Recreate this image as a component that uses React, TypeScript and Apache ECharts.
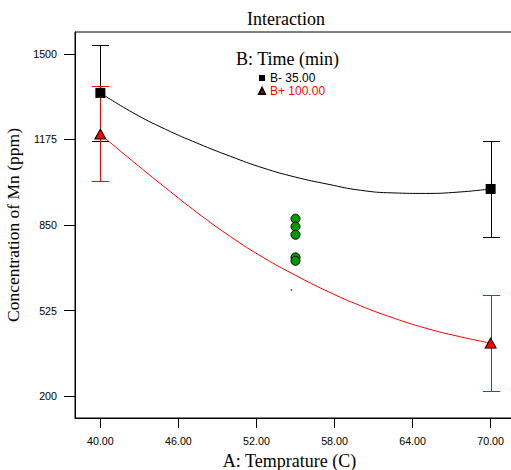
import React, { useEffect, useRef } from "react";
import * as echarts from "echarts";

// Axis ticks
const xTicks = [40, 46, 52, 58, 64, 70];
const yTicks = [200, 525, 850, 1175, 1500];

// Fitted interaction curves
const curveX = [40, 42.5, 45, 47.5, 50, 52.5, 55, 57.5, 60, 62.5, 65, 67.5, 70];
const blackCurveY = [1352, 1277, 1214, 1160, 1111, 1067, 1032, 1005, 982, 972, 970, 975, 987];
const redCurveY = [1195, 1092, 992, 895, 806, 727, 659, 597, 543, 497, 458, 427, 401];

// Design points (B- 35.00 and B+ 100.00) with error bars
const pointX = [40, 70];
const blackPointY = [1352, 987];
const blackBarLow = [1169, 803];
const blackBarHigh = [1533, 1168];
const redPointY = [1196, 401];
const redBarLow = [1016, 219];
const redBarHigh = [1377, 584];

// Centre points (green)
const centerX = [55, 55, 55, 55, 55];
const centerY = [874, 844, 813, 727, 714];

// Tiny stray dot
const strayX = [54.69];
const strayY = [603];

const SERIF = "'Liberation Serif', 'Times New Roman', serif";
const SANS = "'Liberation Sans', Arial, sans-serif";

function errorBarSeries(color: string, lows: number[], highs: number[]) {
  return {
    type: "custom",
    z: 3,
    silent: true,
    data: pointX.map((x, i) => [x, lows[i], highs[i]]),
    renderItem: (params: any, api: any) => {
      const lo = api.coord([api.value(0), api.value(1)]);
      const hi = api.coord([api.value(0), api.value(2)]);
      const x = Math.round(lo[0]) + 0.5;
      const yl = Math.round(lo[1]) + 0.5;
      const yh = Math.round(hi[1]) + 0.5;
      const hw = 8.5;
      const style = { stroke: color, lineWidth: 1, fill: null };
      return {
        type: "group",
        children: [
          { type: "line", shape: { x1: x, y1: yl, x2: x, y2: yh }, style },
          { type: "line", shape: { x1: x - hw, y1: yh, x2: x + hw, y2: yh }, style },
          { type: "line", shape: { x1: x - hw, y1: yl, x2: x + hw, y2: yl }, style },
        ],
      };
    },
  };
}

export default function App() {
  const ref = useRef<HTMLDivElement>(null);
  useEffect(() => {
    if (!ref.current) return;
    document.body.style.margin = "0";
    const chart = echarts.init(ref.current, null, { renderer: "svg" });
    const option: any = {
      animation: false,
      backgroundColor: "#fff",
      title: [
        {
          text: "Interaction",
          left: 247,
          top: 10,
          padding: 0,
          textStyle: { fontFamily: SERIF, fontSize: 18, fontWeight: "normal", color: "#000" },
        },
        {
          text: "B: Time (min)",
          left: 236,
          top: 50,
          padding: 0,
          textStyle: { fontFamily: SERIF, fontSize: 18, fontWeight: "normal", color: "#000" },
        },
      ],
      legend: {
        orient: "vertical",
        left: 258,
        top: 72,
        padding: 0,
        itemWidth: 6,
        itemHeight: 6,
        itemGap: 1,
        textStyle: { fontFamily: SANS, fontSize: 12, color: "#000", lineHeight: 12 },
        data: [
          { name: "B- 35.00" },
          { name: "B+ 100.00", textStyle: { color: "#ff0000" } },
        ],
      },
      grid: {
        show: true,
        left: 75,
        top: 32,
        width: 441,
        height: 386,
        borderColor: "#000",
        borderWidth: 1,
        containLabel: false,
        outerBoundsMode: "none",
      },
      xAxis: {
        type: "value",
        min: 38.05,
        max: 71.95,
        name: "A: Temprature (C)",
        nameLocation: "middle",
        nameGap: 34,
        nameTextStyle: { fontFamily: SERIF, fontSize: 18, color: "#000", padding: [0, 12, 0, 0] },
        axisLine: { show: true, lineStyle: { color: "#000", width: 1 } },
        axisTick: { show: true, length: 10, customValues: xTicks, lineStyle: { color: "#000" } },
        axisLabel: {
          customValues: xTicks,
          margin: 17,
          fontFamily: SANS,
          fontSize: 10.7,
          color: "#000",
          formatter: (v: number) => v.toFixed(2),
        },
        splitLine: { show: false },
      },
      yAxis: {
        type: "value",
        min: 116.4,
        max: 1583.6,
        name: "Concentration of Mn (ppm)",
        nameLocation: "middle",
        nameGap: 39,
        nameTextStyle: { fontFamily: SERIF, fontSize: 17.5, color: "#000" },
        axisLine: { show: true, lineStyle: { color: "#000", width: 1 } },
        axisTick: { show: true, length: 11, customValues: yTicks, lineStyle: { color: "#000" } },
        axisLabel: {
          customValues: yTicks,
          margin: 18,
          fontFamily: SANS,
          fontSize: 10.7,
          color: "#000",
          formatter: (v: number) => String(v),
        },
        splitLine: { show: false },
      },
      series: [
        errorBarSeries("#000", blackBarLow, blackBarHigh),
        errorBarSeries("#ff0000", redBarLow, redBarHigh),
        {
          type: "line",
          name: "blackCurve",
          data: curveX.map((x, i) => [x, blackCurveY[i]]),
          smooth: true,
          showSymbol: false,
          silent: true,
          z: 2,
          lineStyle: { color: "#000", width: 1 },
          itemStyle: { color: "#000" },
        },
        {
          type: "line",
          name: "redCurve",
          data: curveX.map((x, i) => [x, redCurveY[i]]),
          smooth: true,
          showSymbol: false,
          silent: true,
          z: 2,
          lineStyle: { color: "#ff0000", width: 1 },
          itemStyle: { color: "#ff0000" },
        },
        {
          type: "scatter",
          name: "B- 35.00",
          data: pointX.map((x, i) => [x, blackPointY[i]]),
          symbol: "rect",
          symbolSize: 10,
          z: 5,
          itemStyle: { color: "#000", opacity: 1 },
        },
        {
          type: "scatter",
          name: "B+ 100.00",
          data: pointX.map((x, i) => [x, redPointY[i]]),
          symbol: "triangle",
          symbolSize: [11, 10],
          z: 5,
          itemStyle: { color: "#ff0000", borderColor: "#000", borderWidth: 1, opacity: 1 },
        },
        {
          type: "scatter",
          name: "center",
          data: centerX.map((x, i) => [x, centerY[i]]),
          symbol: "circle",
          symbolSize: 9,
          z: 5,
          itemStyle: { color: "#009900", borderColor: "#000", borderWidth: 1, opacity: 1 },
        },
        {
          type: "scatter",
          name: "stray",
          data: strayX.map((x, i) => [x, strayY[i]]),
          symbol: "rect",
          symbolSize: 1.5,
          z: 5,
          itemStyle: { color: "#000" },
        },
      ],
    };
    chart.setOption(option);
    return () => chart.dispose();
  }, []);
  return (
    <div
      ref={ref}
      style={{ position: "absolute", left: 0, top: 0, width: 511, height: 470 }}
    />
  );
}
